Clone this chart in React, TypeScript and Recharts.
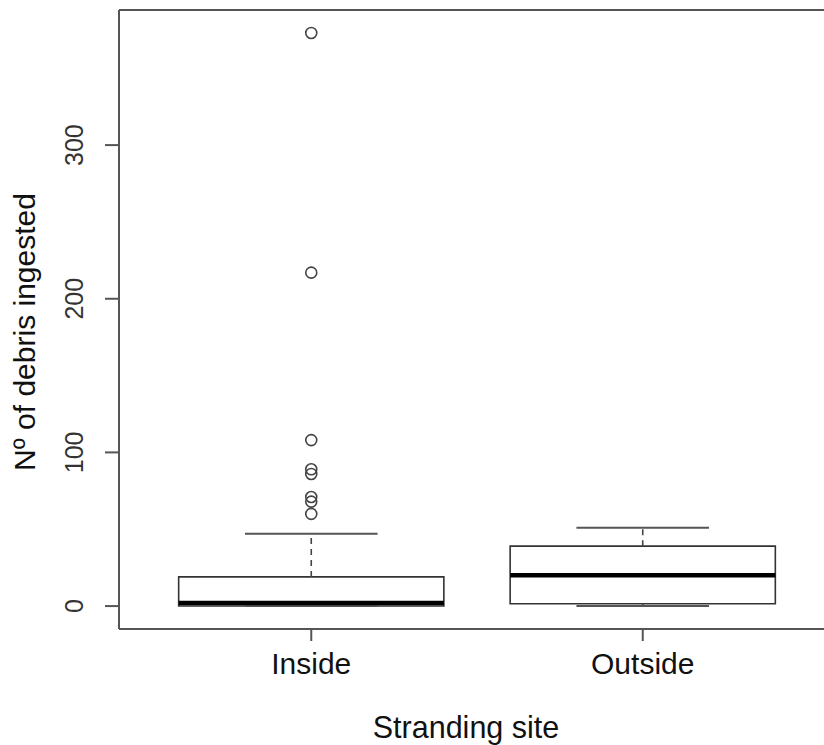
import {
  ComposedChart,
  XAxis,
  YAxis,
  Scatter,
  ReferenceArea,
  ReferenceLine,
} from 'recharts'

// Box stats
const categories = ['Inside', 'Outside']
const positions = [1, 2]
const whiskerLow = [0, 0]
const q1 = [0, 1.5]
const median = [2, 20]
const q3 = [19, 39]
const whiskerHigh = [47, 51]
const insideOutliers = [60, 68, 71, 86, 89, 108, 217, 373]
const outsideOutliers: number[] = []
const yTicks = [0, 100, 200, 300]

// R style axis limits (data range + 4%)
const yDomain: [number, number] = [-14.92, 387.92]
const xDomain: [number, number] = [0.42, 2.58]
const boxHalf = 0.4
const capHalf = 0.2

const font = '"Liberation Sans", Arial, sans-serif'
const lineGrey = '#555'

const outliers = [
  ...insideOutliers.map((v) => ({ x: positions[0], y: v })),
  ...outsideOutliers.map((v) => ({ x: positions[1], y: v })),
]

const OutlierShape = (props: { cx?: number; cy?: number }) => (
  <circle cx={props.cx} cy={props.cy} r={5.5} fill="none" stroke="#444" strokeWidth={1.6} />
)

const YTick = (props: { x?: number; y?: number; payload?: { value: number } }) => {
  const x = (props.x ?? 0) - 20
  const y = props.y ?? 0
  return (
    <text
      x={x}
      y={y}
      transform={`rotate(-90, ${x}, ${y})`}
      textAnchor="middle"
      fontSize={25}
      fontFamily={font}
      fill="#333"
    >
      {props.payload?.value}
    </text>
  )
}

const XTick = (props: { x?: number; y?: number; payload?: { value: number } }) => {
  const idx = positions.indexOf(props.payload?.value ?? -1)
  return (
    <text
      x={props.x}
      y={(props.y ?? 0) + 31}
      textAnchor="middle"
      fontSize={30}
      fontFamily={font}
      fill="#111"
    >
      {categories[idx] ?? ''}
    </text>
  )
}

export default function App() {
  return (
    <div
      style={{
        position: 'absolute',
        left: 0,
        top: 0,
        width: 824,
        height: 745,
        overflow: 'hidden',
        background: '#fff',
      }}
    >
      <ComposedChart
        width={842}
        height={745}
        margin={{ top: 10, right: 7, bottom: 0, left: 0 }}
      >
        <XAxis
          dataKey="x"
          type="number"
          domain={xDomain}
          ticks={positions}
          allowDataOverflow
          height={116}
          tickSize={12}
          stroke={lineGrey}
          strokeWidth={2}
          tick={<XTick />}
          label={{
            content: (p: any) => {
              const vb = p.viewBox ?? { x: 0, y: 0, width: 0 }
              return (
                <text
                  x={vb.x + vb.width / 2 - 11}
                  y={vb.y + 109}
                  textAnchor="middle"
                  fontSize={30.5}
                  fontFamily={font}
                  fill="#111"
                >
                  Stranding site
                </text>
              )
            },
          }}
        />
        <YAxis
          dataKey="y"
          type="number"
          domain={yDomain}
          ticks={yTicks}
          allowDataOverflow
          width={119}
          tickSize={14}
          stroke={lineGrey}
          strokeWidth={2}
          tick={<YTick />}
          label={{
            content: (p: any) => {
              const vb = p.viewBox ?? { x: 0, y: 0, height: 0 }
              const x = vb.x + 35
              const y = vb.y + vb.height / 2 + 12.5
              return (
                <text
                  x={x}
                  y={y}
                  transform={`rotate(-90, ${x}, ${y})`}
                  textAnchor="middle"
                  fontSize={30}
                  fontFamily={font}
                  fill="#111"
                >
                  Nº of debris ingested
                </text>
              )
            },
          }}
        />
        {/* top of the frame */}
        <ReferenceLine y={yDomain[1]} stroke={lineGrey} strokeWidth={2} />

        {positions.map((p, i) => (
          <ReferenceArea
            key={`box-${i}`}
            x1={p - boxHalf}
            x2={p + boxHalf}
            y1={q1[i]}
            y2={q3[i]}
            fill="#fff"
            fillOpacity={1}
            stroke="#333"
            strokeWidth={1.6}
          />
        ))}
        {positions.map((p, i) => (
          <ReferenceLine
            key={`wu-${i}`}
            segment={[
              { x: p, y: q3[i] },
              { x: p, y: whiskerHigh[i] },
            ]}
            stroke="#444"
            strokeWidth={1.6}
            strokeDasharray="6 5"
          />
        ))}
        {positions.map((p, i) => (
          <ReferenceLine
            key={`wl-${i}`}
            segment={[
              { x: p, y: whiskerLow[i] },
              { x: p, y: q1[i] },
            ]}
            stroke="#444"
            strokeWidth={1.6}
            strokeDasharray="6 5"
          />
        ))}
        {positions.map((p, i) => (
          <ReferenceLine
            key={`cu-${i}`}
            segment={[
              { x: p - capHalf, y: whiskerHigh[i] },
              { x: p + capHalf, y: whiskerHigh[i] },
            ]}
            stroke={lineGrey}
            strokeWidth={2}
          />
        ))}
        {positions.map((p, i) => (
          <ReferenceLine
            key={`cl-${i}`}
            segment={[
              { x: p - capHalf, y: whiskerLow[i] },
              { x: p + capHalf, y: whiskerLow[i] },
            ]}
            stroke={lineGrey}
            strokeWidth={2}
          />
        ))}
        {positions.map((p, i) => (
          <ReferenceLine
            key={`med-${i}`}
            segment={[
              { x: p - boxHalf, y: median[i] },
              { x: p + boxHalf, y: median[i] },
            ]}
            stroke="#000"
            strokeWidth={4.5}
          />
        ))}
        <Scatter
          data={outliers}
          dataKey="y"
          isAnimationActive={false}
          shape={<OutlierShape />}
        />
      </ComposedChart>
    </div>
  )
}
